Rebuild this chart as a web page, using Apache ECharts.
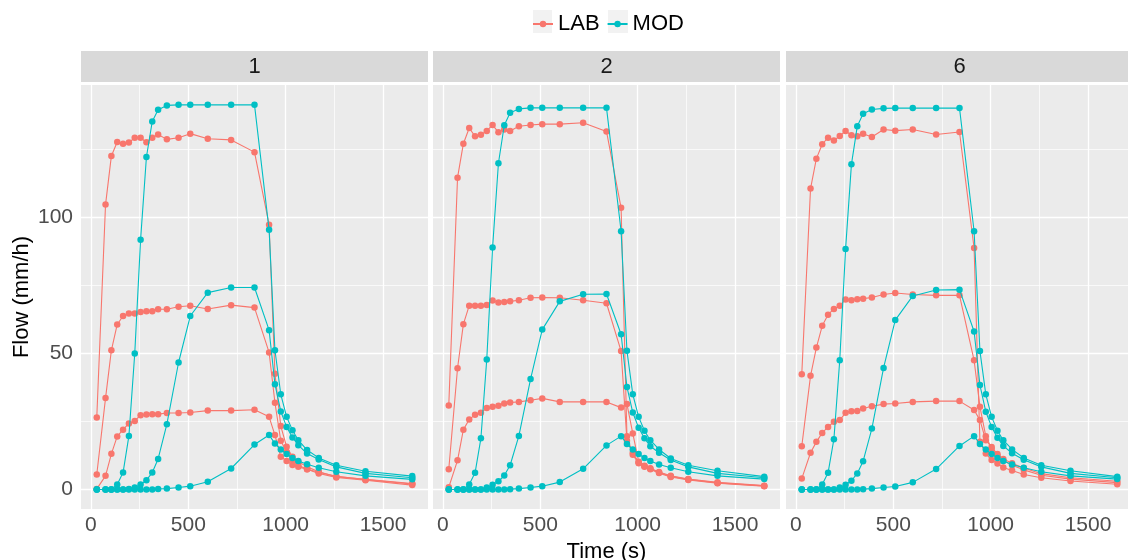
<!DOCTYPE html>
<html><head><meta charset="utf-8">
<script src="https://cdn.jsdelivr.net/npm/echarts@6/dist/echarts.min.js"></script>
<style>html,body{margin:0;padding:0;background:#fff}#c{width:1128px;height:560px}</style>
</head><body><div id="c"></div>
<script>
// ---- data ----
const times = [30, 75, 105, 135, 165, 195, 225, 255, 285, 315, 345, 390, 450, 510, 600, 720, 840, 915, 945, 975, 1005, 1035, 1065, 1110, 1170, 1260, 1410, 1650];
const facets = ['1', '2', '6'];
const groups = ['LAB', 'MOD'];
const xTicks = [0, 500, 1000, 1500];
const yTicks = [0, 50, 100];

// facet 1
const f1_lab_hi  = [26.5, 104.8, 122.7, 127.8, 127.2, 127.6, 129.4, 129.4, 127.7, 129.4, 130.6, 128.8, 129.4, 130.9, 129.0, 128.6, 124.1, 97.4, 42.6, 23.3, 15.7, 12.0, 10.2, 8.3, 6.5, 4.7, 3.7, 2.2];
const f1_lab_mid = [5.5, 33.6, 51.2, 60.7, 63.8, 64.7, 64.7, 65.3, 65.6, 65.6, 66.3, 66.3, 67.2, 67.6, 66.4, 67.8, 66.9, 50.4, 31.9, 17.9, 13.8, 10.8, 8.9, 7.4, 5.9, 4.4, 3.4, 1.6];
const f1_lab_lo  = [0.2, 5.0, 13.1, 19.5, 22.0, 24.3, 25.2, 27.3, 27.6, 27.7, 27.7, 28.1, 28.1, 28.3, 29.0, 29.0, 29.3, 26.7, 20.0, 12.0, 10.5, 9.0, 8.3, 7.4, 6.3, 4.8, 3.6, 2.0];
const f1_mod_hi  = [0, 0, 0, 1.8, 6.2, 19.7, 50.0, 91.9, 122.3, 135.4, 139.7, 141.3, 141.5, 141.5, 141.5, 141.5, 141.5, 95.5, 51.2, 35.0, 26.7, 21.8, 18.1, 14.5, 11.6, 8.9, 6.7, 4.9];
const f1_mod_mid = [0, 0, 0, 0, 0, 0.2, 0.7, 1.8, 3.4, 6.2, 11.2, 24.0, 46.7, 63.8, 72.4, 74.3, 74.3, 58.6, 38.7, 28.7, 23.0, 19.1, 16.3, 13.2, 11.0, 8.3, 5.9, 4.3];
const f1_mod_lo  = [0, 0, 0, 0, 0, 0, 0, 0, 0, 0, 0.2, 0.3, 0.7, 1.2, 2.8, 7.7, 16.5, 20.0, 16.9, 14.7, 13.0, 11.6, 10.5, 9.3, 8.0, 6.5, 5.0, 3.7];
// facet 2
const f2_lab_hi  = [30.9, 114.7, 127.2, 133.0, 129.9, 130.5, 131.9, 134.1, 131.4, 132.4, 131.9, 133.6, 134.1, 134.4, 134.4, 134.9, 131.7, 103.6, 19.6, 12.8, 9.6, 8.3, 7.4, 6.0, 4.6, 3.5, 2.3, 1.2];
const f2_lab_mid = [7.4, 44.6, 60.8, 67.6, 67.6, 67.6, 67.9, 69.5, 68.8, 69.0, 69.2, 69.6, 70.5, 70.6, 70.5, 69.6, 68.5, 50.9, 17.9, 13.5, 10.0, 8.7, 7.8, 6.4, 5.0, 3.8, 2.6, 1.4];
const f2_lab_lo  = [0.8, 10.7, 22.0, 25.7, 27.5, 28.2, 30.0, 30.4, 30.8, 31.6, 32.0, 32.2, 32.8, 33.5, 32.2, 32.2, 32.2, 30.1, 31.4, 20.6, 10.2, 8.5, 7.6, 6.2, 4.8, 3.7, 2.4, 1.3];
const f2_mod_hi  = [0, 0, 0, 1.8, 6.1, 18.8, 47.8, 89.0, 120.0, 134.0, 138.6, 140.0, 140.4, 140.4, 140.4, 140.4, 140.4, 95.0, 51.0, 35.0, 26.7, 21.6, 18.1, 14.7, 11.4, 8.9, 6.9, 4.7];
const f2_mod_mid = [0, 0, 0, 0, 0, 0, 0.7, 1.7, 3.0, 5.1, 8.9, 19.7, 40.6, 58.8, 69.2, 71.8, 71.9, 57.1, 37.7, 28.3, 22.7, 18.8, 15.9, 13.5, 10.8, 8.3, 5.9, 4.3];
const f2_mod_lo  = [0, 0, 0, 0, 0, 0, 0, 0, 0, 0, 0.1, 0.3, 0.7, 1.2, 2.7, 7.6, 16.2, 19.6, 16.7, 14.7, 13.0, 11.6, 10.5, 9.2, 8.0, 6.5, 5.0, 3.8];
// facet 6
const f6_lab_hi  = [42.4, 110.7, 121.7, 127.0, 129.4, 128.4, 130.0, 131.9, 130.3, 129.9, 130.9, 129.7, 132.4, 132.0, 132.4, 130.6, 131.5, 88.8, 17.5, 13.2, 10.8, 9.5, 8.1, 7.0, 5.5, 4.3, 3.1, 1.9];
const f6_lab_mid = [15.9, 41.8, 52.2, 60.2, 64.3, 66.4, 67.6, 69.9, 69.6, 70.0, 70.2, 70.6, 71.7, 72.3, 71.7, 71.4, 71.4, 47.5, 30.4, 19.6, 15.0, 12.5, 10.6, 8.9, 7.2, 5.2, 3.8, 2.5];
const f6_lab_lo  = [4.0, 13.5, 17.5, 20.8, 23.0, 24.9, 25.5, 28.2, 28.8, 28.9, 29.8, 30.6, 31.4, 31.6, 32.2, 32.5, 32.5, 29.2, 25.5, 18.1, 15.6, 13.0, 11.2, 9.6, 7.9, 5.8, 4.3, 3.0];
const f6_mod_hi  = [0, 0, 0, 1.8, 6.1, 18.5, 47.5, 88.5, 119.6, 133.6, 138.2, 139.8, 140.2, 140.3, 140.3, 140.3, 140.3, 95.0, 50.9, 35.0, 26.7, 21.6, 18.1, 14.7, 11.6, 8.9, 6.9, 4.7];
const f6_mod_mid = [0, 0, 0, 0, 0, 0, 0.7, 1.7, 3.2, 5.9, 10.4, 22.4, 44.7, 62.3, 71.2, 73.4, 73.5, 58.1, 38.4, 28.6, 23.0, 19.0, 16.0, 13.3, 10.9, 8.3, 5.9, 4.3];
const f6_mod_lo  = [0, 0, 0, 0, 0, 0, 0, 0, 0, 0, 0.1, 0.3, 0.7, 1.1, 2.6, 7.5, 16.0, 19.6, 16.7, 14.7, 13.0, 11.6, 10.5, 9.2, 8.0, 6.5, 5.0, 3.8];

const panels = [
  { LAB: [f1_lab_lo, f1_lab_mid, f1_lab_hi], MOD: [f1_mod_lo, f1_mod_mid, f1_mod_hi] },
  { LAB: [f2_lab_lo, f2_lab_mid, f2_lab_hi], MOD: [f2_mod_lo, f2_mod_mid, f2_mod_hi] },
  { LAB: [f6_lab_lo, f6_lab_mid, f6_lab_hi], MOD: [f6_mod_lo, f6_mod_mid, f6_mod_hi] }
];

// ---- style/layout ----
const colors = { LAB: '#F8766D', MOD: '#00BFC4' };
const FONT = 'Liberation Sans, Arial, sans-serif';
const gridLefts = [81, 433, 786];
const gridW = 347, gridTop = 85, gridH = 424;
const X_MIN = -51, X_MAX = 1731, Y_MIN = -7.2, Y_MAX = 148.8;

const chart = echarts.init(document.getElementById('c'), null, { renderer: 'canvas' });

const grids = [], xAxes = [], yAxes = [], series = [], graphics = [];
facets.forEach((f, i) => {
  grids.push({ left: gridLefts[i], top: gridTop, width: gridW, height: gridH, show: true,
    backgroundColor: '#EBEBEB', borderWidth: 0, containLabel: false, outerBoundsMode: 'none' });
  xAxes.push({ type: 'value', gridIndex: i, min: X_MIN, max: X_MAX,
    axisLine: { show: false },
    axisTick: { show: true, length: 4, lineStyle: { color: '#333333', width: 1 }, customValues: xTicks },
    axisLabel: { show: true, customValues: xTicks, fontSize: 21, color: '#4D4D4D', margin: 6, fontFamily: FONT,
      formatter: v => String(v) },
    splitLine: { show: false },
    name: i === 1 ? 'Time (s)' : '', nameLocation: 'middle', nameGap: 25,
    nameTextStyle: { fontSize: 22, color: '#000', fontFamily: FONT }
  });
  yAxes.push({ type: 'value', gridIndex: i, min: Y_MIN, max: Y_MAX,
    axisLine: { show: false },
    axisTick: { show: i === 0, length: 4, lineStyle: { color: '#333333', width: 1 }, customValues: yTicks },
    axisLabel: { show: i === 0, customValues: yTicks, fontSize: 21, color: '#4D4D4D', margin: 8, fontFamily: FONT,
      formatter: v => String(v) },
    splitLine: { show: false }
  });
  // gridlines (background)
  const gl = [];
  [0, 250, 500, 750, 1000, 1250, 1500].forEach(v => gl.push({ xAxis: v,
    lineStyle: { color: '#FFFFFF', width: v % 500 === 0 ? 1.3 : 0.7, type: 'solid' } }));
  [0, 25, 50, 75, 100, 125].forEach(v => gl.push({ yAxis: v,
    lineStyle: { color: '#FFFFFF', width: v % 50 === 0 ? 1.3 : 0.7, type: 'solid' } }));
  series.push({ type: 'line', name: '_grid' + i, xAxisIndex: i, yAxisIndex: i, data: [], z: 1,
    silent: true,
    markLine: { silent: true, z: 1, symbol: ['none', 'none'], label: { show: false }, animation: false,
      emphasis: { disabled: true }, data: gl } });
  groups.forEach(g => {
    panels[i][g].forEach(vals => {
      series.push({ type: 'line', name: g, xAxisIndex: i, yAxisIndex: i, z: g === 'LAB' ? 3 : 4,
        data: times.map((t, k) => [t, vals[k]]),
        symbol: 'circle', symbolSize: 6.5, showSymbol: true,
        lineStyle: { color: colors[g], width: 1.1 },
        itemStyle: { color: colors[g] },
        emphasis: { disabled: true }
      });
    });
  });
  // facet strip
  graphics.push({ type: 'rect', shape: { x: gridLefts[i], y: 51, width: gridW, height: 31 },
    style: { fill: '#D9D9D9' }, silent: true });
  graphics.push({ type: 'text', x: gridLefts[i] + gridW / 2, y: 67,
    style: { text: f, fill: '#1A1A1A', font: '22px ' + FONT, align: 'center', verticalAlign: 'middle' }, silent: true });
});
// legend key backgrounds
graphics.push({ type: 'rect', shape: { x: 533, y: 10, width: 19, height: 23 }, style: { fill: '#F2F2F2' }, z: -1 });
graphics.push({ type: 'rect', shape: { x: 608, y: 10, width: 20, height: 23 }, style: { fill: '#F2F2F2' }, z: -1 });
// y axis title
graphics.push({ type: 'text', x: 22, y: 297, rotation: Math.PI / 2,
  style: { text: 'Flow (mm/h)', fill: '#000', font: '22px ' + FONT, align: 'center', verticalAlign: 'middle' } });

chart.setOption({
  animation: false,
  textStyle: { fontFamily: FONT },
  legend: { data: groups, left: 527, top: 8, itemWidth: 20, itemHeight: 8, itemGap: 7,
    textStyle: { fontSize: 22, color: '#000', fontFamily: FONT }, selectedMode: false },
  grid: grids, xAxis: xAxes, yAxis: yAxes, series: series, graphic: graphics
});
</script></body></html>
